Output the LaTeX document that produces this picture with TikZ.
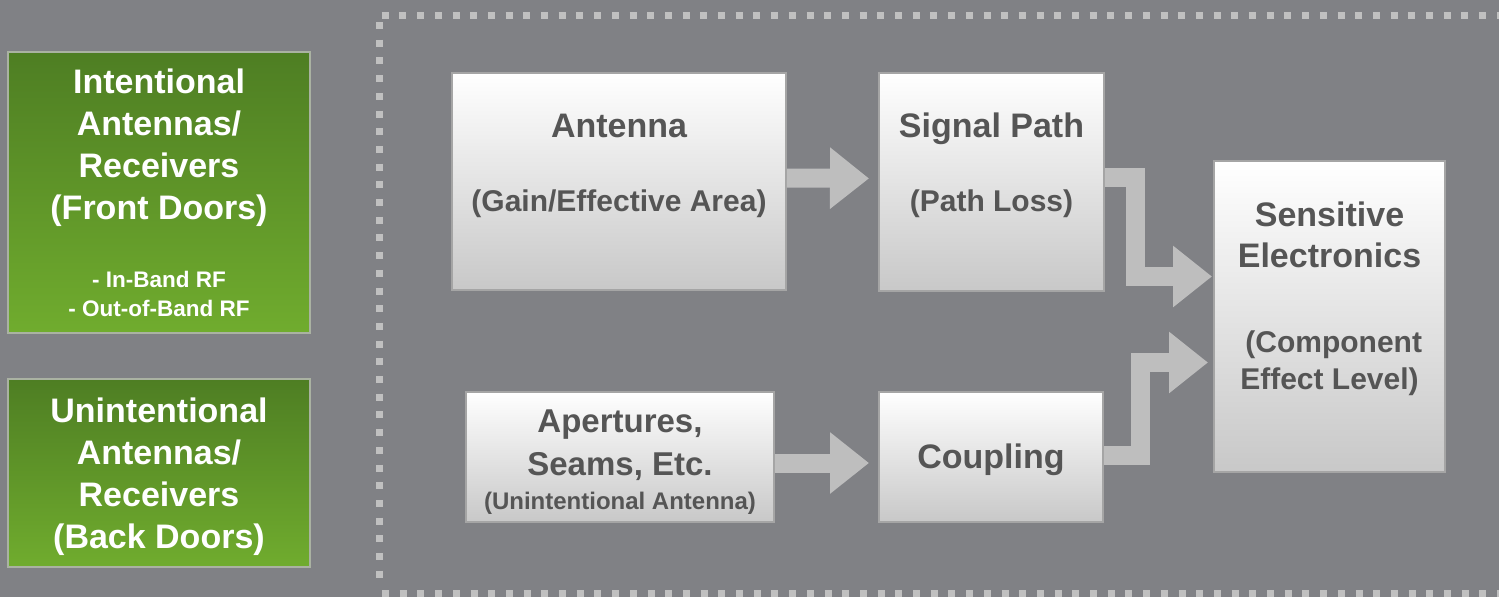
\documentclass[tikz,border=0pt]{standalone}
\usepackage{fontspec}
\setmainfont{Liberation Sans}
\usetikzlibrary{arrows.meta}

\definecolor{bggray}{RGB}{128,129,133}
\definecolor{dotgray}{RGB}{192,192,192}
\definecolor{arrgray}{RGB}{190,190,190}
\definecolor{boxedge}{RGB}{165,165,165}
\definecolor{boxbot}{RGB}{200,200,200}
\definecolor{txtgray}{RGB}{85,85,85}
\definecolor{greentop}{RGB}{78,126,35}
\definecolor{greenbot}{RGB}{112,172,46}
\definecolor{greenedge}{RGB}{170,178,162}

\begin{document}
\begin{tikzpicture}[x=1pt, y=-1pt,
	wbox/.style = {draw=boxedge, line width=2pt, top color=white, bottom color=boxbot, inner sep=0pt},
	gbox/.style = {draw=greenedge, line width=2pt, top color=greentop, bottom color=greenbot, inner sep=0pt},
	boxtitle/.style = {inner sep=0pt, align=center, text=txtgray, font=\fontsize{34}{42}\selectfont\bfseries},
	boxsub/.style = {boxtitle, font=\fontsize{30}{37}\selectfont\bfseries},
	gtitle/.style = {boxtitle, text=white, font=\fontsize{34}{42.3}\selectfont\bfseries},
	gband/.style = {gtitle, font=\fontsize{22.5}{29}\selectfont\bfseries},
	flow/.style = {draw=arrgray, line width=19pt, line join=miter, -{Triangle[width=59pt, length=39pt]}},
	dots/.style = {draw=dotgray, line width=7pt, dash pattern=on 7pt off 10.7pt}]

	\fill[bggray] (0,0) rectangle (1499,597);
	\useasboundingbox (0,0) rectangle (1499,597);
	\clip (0,0) rectangle (1499,597);

	% doors
	\node[gbox, minimum width=302pt, minimum height=281pt] (front) at (159,192.5) {};
	\node[gtitle] (front-t) at (159,147.7) {Intentional\\Antennas/\\Receivers\\(Front Doors)};
	\node[gband] (front-b) at (159,294.3) {- In-Band RF\\- Out-of-Band RF};
	\node[gbox, minimum width=302pt, minimum height=188pt] (back) at (159,473) {};
	\node[gtitle] (back-t) at (159,476.7) {Unintentional\\Antennas/\\Receivers\\(Back Doors)};

	% frame
	\draw[dots] (381.7,15.7) -- (1510,15.7);
	\draw[dots] (379.3,22) -- (379.3,588);
	\draw[dots] (382,593.5) -- (1510,593.5);

	% coupling chain
	\node[wbox, minimum width=334pt, minimum height=217pt] (antenna) at (619,181.5) {};
	\node[boxtitle] (antenna-t) at (619,125.6) {Antenna};
	\node[boxsub] (antenna-s) at (619,204.2) {(Gain/Effective Area)};
	\node[wbox, minimum width=225pt, minimum height=218pt] (path) at (991.5,182) {};
	\node[boxtitle] (path-t) at (991.5,129.2) {Signal Path};
	\node[boxsub] (path-s) at (991.5,204.2) {(Path Loss)};
	\node[wbox, minimum width=308pt, minimum height=130pt] (aperture) at (620,457) {};
	\node[boxtitle, font=\fontsize{33}{43}\selectfont\bfseries] (aperture-t) at (620,445) {Apertures,\\Seams, Etc.};
	\node[boxsub, font=\fontsize{24}{29}\selectfont\bfseries] (aperture-s) at (620,502.8) {(Unintentional Antenna)};
	\node[wbox, minimum width=224pt, minimum height=130pt] (coupling) at (991,457) {};
	\node[boxtitle] (coupling-t) at (991,460.2) {Coupling};
	\node[wbox, minimum width=231pt, minimum height=311pt] (victim) at (1329.5,316.5) {};
	\node[boxtitle, font=\fontsize{34}{41}\selectfont\bfseries] (victim-t) at (1329.5,235.1) {Sensitive\\Electronics};
	\node[boxsub] (victim-s) at (1329.5,363.7) {\ (Component\\Effect Level)};

	\draw[flow, shorten >=9pt] ([yshift=3.5pt]antenna.east) -- ([yshift=3.5pt]path.west);
	\draw[flow, shorten >=9pt] ([yshift=-6pt]aperture.east) -- ([yshift=-6pt]coupling.west);
	\draw[flow, shorten >=1pt] ([yshift=4.5pt]path.east) -- ++(30.5,0) |- ([yshift=40pt]victim.west);
	\draw[flow, shorten >=5pt] ([yshift=2pt]coupling.east) -- ++(36,0) |- ([yshift=-46pt]victim.west);
\end{tikzpicture}
\end{document}
